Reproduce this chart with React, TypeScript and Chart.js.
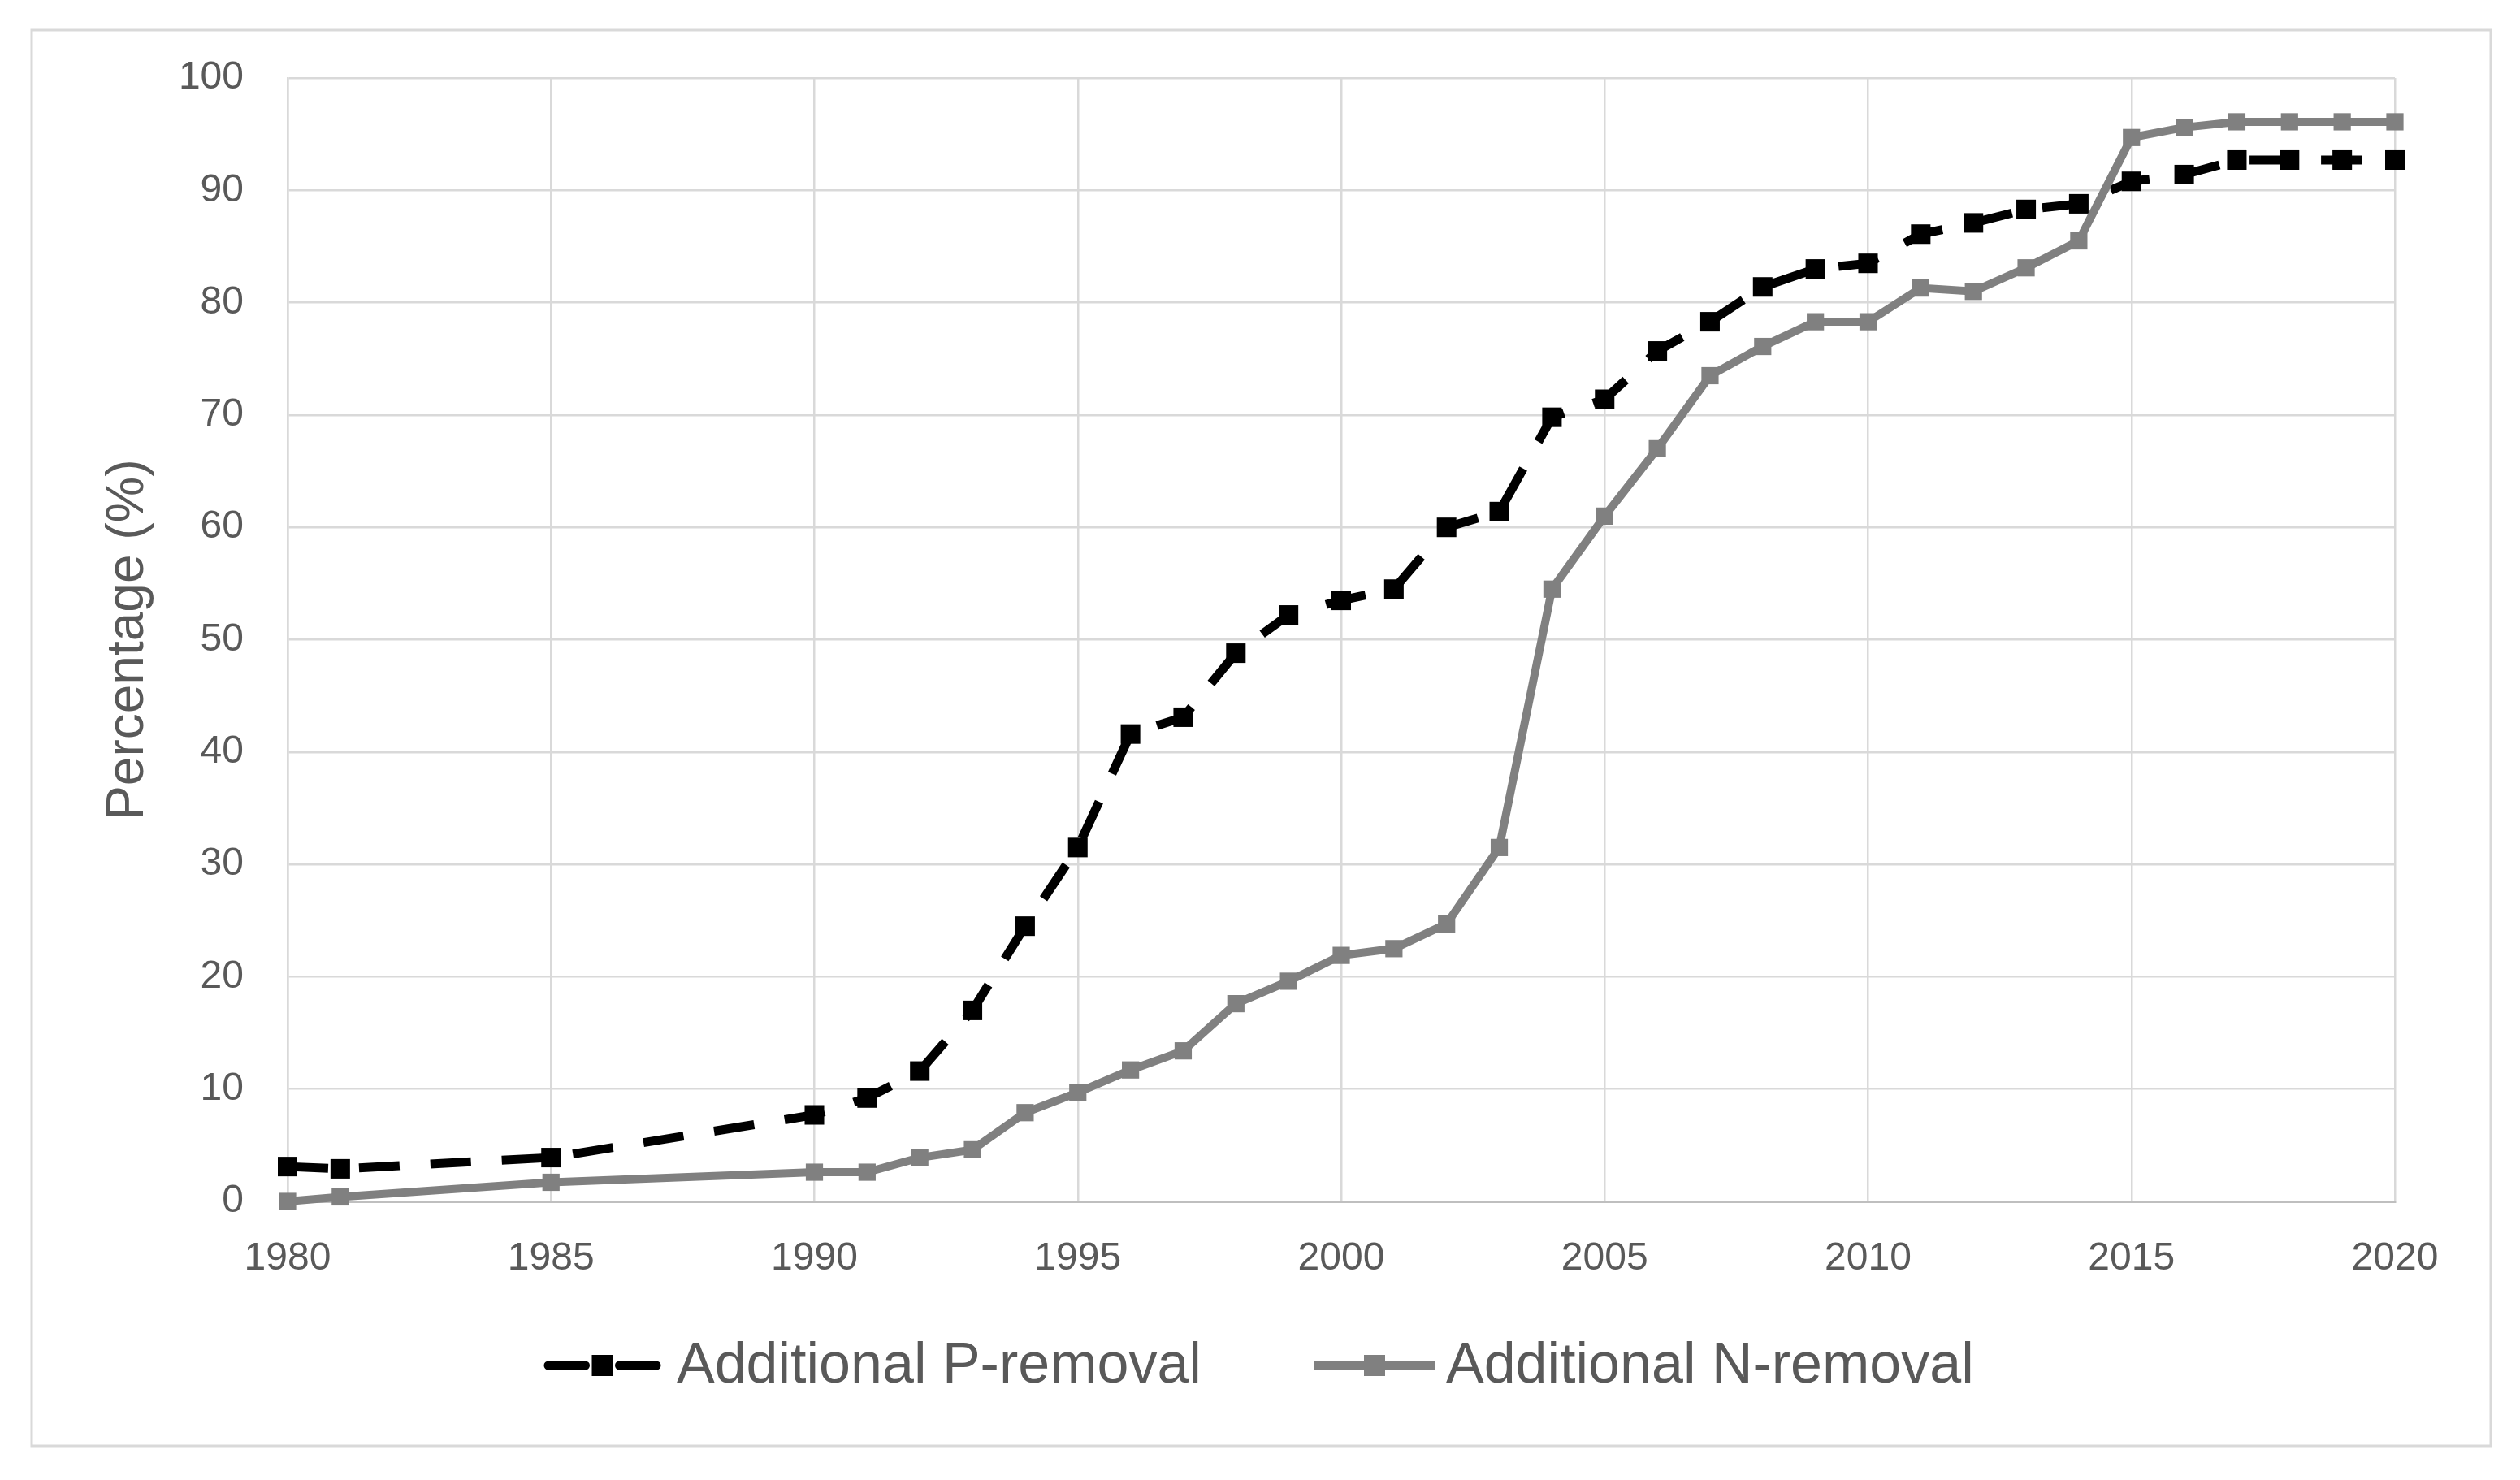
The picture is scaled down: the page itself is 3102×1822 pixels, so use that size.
import React, { useEffect, useRef } from "react";
import { Chart, registerables } from "chart.js";

Chart.register(...registerables);

const years = [
  1980, 1981, 1985, 1990, 1991, 1992, 1993, 1994, 1995, 1996, 1997, 1998, 1999,
  2000, 2001, 2002, 2003, 2004, 2005, 2006, 2007, 2008, 2009, 2010, 2011, 2012,
  2013, 2014, 2015, 2016, 2017, 2018, 2019, 2020,
];

const pRemoval = [
  3.1, 2.9, 3.9, 7.7, 9.2, 11.6, 17.0, 24.5, 31.5, 41.6, 43.1, 48.8, 52.2,
  53.5, 54.5, 60.0, 61.4, 69.8, 71.4, 75.7, 78.3, 81.4, 83.0, 83.5, 86.1, 87.1,
  88.3, 88.8, 90.8, 91.4, 92.7, 92.7, 92.7, 92.7,
];

const nRemoval = [
  0.0, 0.4, 1.7, 2.6, 2.6, 3.9, 4.6, 7.9, 9.7, 11.7, 13.4, 17.6, 19.6,
  21.9, 22.5, 24.7, 31.5, 54.5, 61.0, 67.0, 73.5, 76.1, 78.3, 78.3, 81.3, 81.0,
  83.1, 85.5, 94.7, 95.6, 96.1, 96.1, 96.1, 96.1,
];

const seriesLabels = ["Additional P-removal", "Additional N-removal"];
const yAxisTitle = "Percentage (%)";

const FONT = "'Liberation Sans', Arial, sans-serif";
const TEXT_COLOR = "#595959";
const GRID_COLOR = "#d9d9d9";

// legend layout: [lineStart, lineEnd, textX]
const legendLayout = [
  [669, 814, 833],
  [1618, 1766, 1780],
];
const legendY = 1681;

export default function App() {
  const canvasRef = useRef<HTMLCanvasElement | null>(null);

  useEffect(() => {
    const canvas = canvasRef.current;
    if (!canvas) return;

    const frame = {
      id: "frame",
      beforeDraw(chart: any) {
        const ctx = chart.ctx;
        ctx.save();
        ctx.fillStyle = "#ffffff";
        ctx.fillRect(0, 0, chart.width, chart.height);
        ctx.strokeStyle = GRID_COLOR;
        ctx.lineWidth = 3;
        ctx.strokeRect(39, 37, 3066 - 39, 1780 - 37);
        ctx.restore();
      },
    };

    const customLegend = {
      id: "customLegend",
      afterDraw(chart: any) {
        const ctx = chart.ctx;
        chart.data.datasets.forEach((ds: any, i: number) => {
          const [x1, x2, tx] = legendLayout[i];
          ctx.save();
          ctx.strokeStyle = ds.borderColor;
          ctx.lineWidth = ds.borderWidth;
          if (ds.borderDash) {
            const len = x2 - x1;
            const seg = (len - 26) / 2 - 8;
            ctx.lineCap = "round";
            ctx.beginPath();
            ctx.moveTo(x1 + 6, legendY);
            ctx.lineTo(x1 + seg, legendY);
            ctx.moveTo(x2 - seg, legendY);
            ctx.lineTo(x2 - 6, legendY);
            ctx.stroke();
          } else {
            ctx.beginPath();
            ctx.moveTo(x1, legendY);
            ctx.lineTo(x2, legendY);
            ctx.stroke();
          }
          const side = 26;
          const cx = (x1 + x2) / 2;
          ctx.fillStyle = ds.backgroundColor;
          ctx.fillRect(cx - side / 2, legendY - side / 2, side, side);
          ctx.fillStyle = TEXT_COLOR;
          ctx.font = `70px ${FONT}`;
          ctx.textAlign = "left";
          ctx.textBaseline = "middle";
          ctx.fillText(ds.label, tx, legendY + 2);
          ctx.restore();
        });
      },
    };

    const chart = new Chart(canvas, {
      type: "line",
      data: {
        datasets: [
          {
            label: seriesLabels[0],
            data: years.map((x, i) => ({ x, y: pRemoval[i] })),
            borderColor: "#000000",
            backgroundColor: "#000000",
            borderWidth: 11,
            borderDash: [50, 38],
            borderCapStyle: "butt",
            pointStyle: "rect",
            pointRadius: 17,
            pointBorderWidth: 0,
            tension: 0,
            clip: false,
            order: 1,
          },
          {
            label: seriesLabels[1],
            data: years.map((x, i) => ({ x, y: nRemoval[i] })),
            borderColor: "#808080",
            backgroundColor: "#808080",
            borderWidth: 10,
            pointStyle: "rect",
            pointRadius: 15,
            pointBorderWidth: 0,
            tension: 0,
            clip: false,
            order: 0,
          },
        ] as any,
      },
      options: {
        responsive: false,
        animation: false,
        devicePixelRatio: 1,
        layout: { padding: { left: 40, top: 96, right: 154, bottom: 223 } },
        plugins: {
          legend: { display: false },
          tooltip: { enabled: false },
        },
        scales: {
          x: {
            type: "linear",
            min: 1980,
            max: 2020,
            afterFit: (s: any) => {
              s.height = 120;
            },
            ticks: {
              stepSize: 5,
              callback: (v: any) => String(v),
              font: { size: 48, family: FONT },
              color: TEXT_COLOR,
              padding: 42,
              maxRotation: 0,
            },
            grid: { color: GRID_COLOR, lineWidth: 2.5, drawTicks: false },
            border: { color: "#bfbfbf", width: 3 },
          },
          y: {
            min: 0,
            max: 100,
            afterFit: (s: any) => {
              s.width = 314;
            },
            ticks: {
              stepSize: 10,
              font: { size: 48, family: FONT },
              color: TEXT_COLOR,
              padding: 54,
            },
            grid: { color: GRID_COLOR, lineWidth: 2.5, drawTicks: false },
            border: { color: GRID_COLOR, width: 2.5 },
            title: {
              display: true,
              text: yAxisTitle,
              font: { size: 64, family: FONT },
              color: TEXT_COLOR,
              padding: { top: 80, bottom: 0 },
            },
          },
        },
      } as any,
      plugins: [frame, customLegend],
    });

    return () => chart.destroy();
  }, []);

  return (
    <div style={{ position: "fixed", left: 0, top: 0, width: 3102, height: 1822, background: "#fff" }}>
      <canvas ref={canvasRef} width={3102} height={1822} style={{ display: "block", width: 3102, height: 1822 }} />
    </div>
  );
}
